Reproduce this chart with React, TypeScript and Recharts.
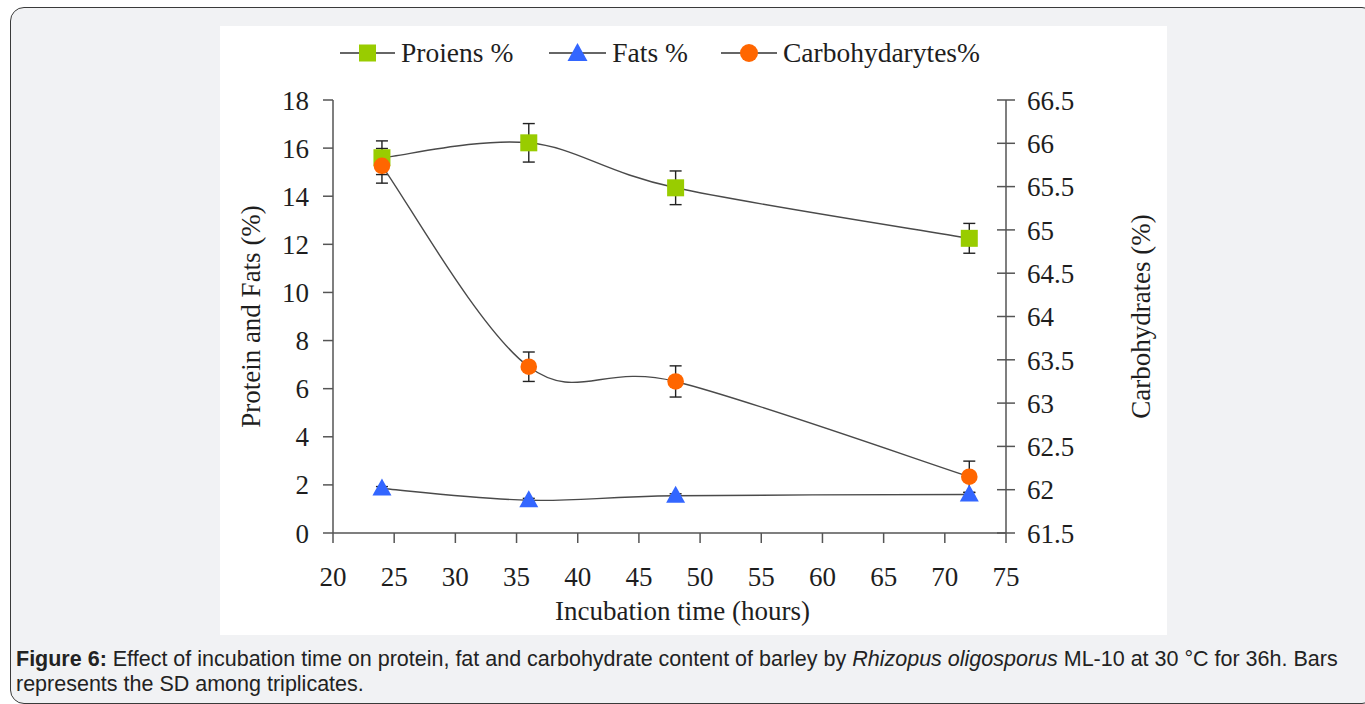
import React from "react";
import { LineChart, Line, XAxis, YAxis, ErrorBar, Legend } from "recharts";

// ---- data ----
const hours = [24, 36, 48, 72];
const proteins = [15.6, 16.22, 14.35, 12.25];
const proteinSD = [0.7, 0.8, 0.7, 0.62];
const fats = [1.85, 1.36, 1.55, 1.6];
const fatsSD = [0.08, 0.08, 0.08, 0.08];
const carbs = [65.74, 63.42, 63.25, 62.15];
const carbsSD = [0.2, 0.17, 0.18, 0.18];

const xTicks = [20, 25, 30, 35, 40, 45, 50, 55, 60, 65, 70, 75];
const leftTicks = [0, 2, 4, 6, 8, 10, 12, 14, 16, 18];
const rightTicks = [61.5, 62, 62.5, 63, 63.5, 64, 64.5, 65, 65.5, 66, 66.5];

const seriesNames = ["Proiens %", "Fats %", "Carbohydarytes%"];

const data = hours.map((h, i) => ({
  hours: h,
  protein: proteins[i],
  proteinErr: proteinSD[i],
  fat: fats[i],
  fatErr: fatsSD[i],
  carb: carbs[i],
  carbErr: carbsSD[i],
}));

const GREEN = "#99cc00";
const BLUE = "#3366ff";
const ORANGE = "#ff6600";
const LINE = "#4a4a4a";
const AXIS = "#555555";
const TEXT = "#1e1e1e";
const SERIF = "'Liberation Serif', 'Times New Roman', serif";

// Catmull-Rom style smoothing (like spreadsheet "smoothed line")
const smoothCurve: any = (context: any) => {
  let pts: number[][] = [];
  return {
    areaStart() {},
    areaEnd() {},
    lineStart() {
      pts = [];
    },
    point(x: number, y: number) {
      pts.push([+x, +y]);
    },
    lineEnd() {
      if (!pts.length) return;
      context.moveTo(pts[0][0], pts[0][1]);
      for (let i = 0; i < pts.length - 1; i++) {
        const p0 = pts[i - 1] || pts[i];
        const p1 = pts[i];
        const p2 = pts[i + 1];
        const p3 = pts[i + 2] || p2;
        context.bezierCurveTo(
          p1[0] + (p2[0] - p0[0]) / 6,
          p1[1] + (p2[1] - p0[1]) / 6,
          p2[0] - (p3[0] - p1[0]) / 6,
          p2[1] - (p3[1] - p1[1]) / 6,
          p2[0],
          p2[1]
        );
      }
    },
  };
};

const squareDot = (p: any) =>
  p.cx == null ? null : (
    <rect key={`sq${p.index}`} x={p.cx - 8.5} y={p.cy - 8.5} width={17} height={17} fill={GREEN} />
  );
const triDot = (p: any) =>
  p.cx == null ? null : (
    <polygon
      key={`tr${p.index}`}
      points={`${p.cx},${p.cy - 10} ${p.cx - 9.5},${p.cy + 7} ${p.cx + 9.5},${p.cy + 7}`}
      fill={BLUE}
    />
  );
const circDot = (p: any) =>
  p.cx == null ? null : <circle key={`ci${p.index}`} cx={p.cx} cy={p.cy} r={8.3} fill={ORANGE} />;

const RightTick = (props: any) => {
  const { x, y, payload } = props;
  const ax = x - 21;
  return (
    <g>
      <line x1={ax - 9} x2={ax + 9} y1={y} y2={y} stroke={AXIS} strokeWidth={1.5} />
      <text x={x} y={y} dy="0.36em" textAnchor="start" fill={TEXT} fontSize={27} fontFamily={SERIF}>
        {payload.value}
      </text>
    </g>
  );
};

const legendMarkers = [
  (cx: number) => <rect x={cx - 8.5} y={1.5} width={17} height={17} fill={GREEN} />,
  (cx: number) => <polygon points={`${cx},0 ${cx - 10},18 ${cx + 10},18`} fill={BLUE} />,
  (cx: number) => <circle cx={cx} cy={10} r={9} fill={ORANGE} />,
];
const legendLineW = [55, 57, 56];
const legendGaps = [0, 36, 33];

const LegendContent = () => (
  <div style={{ height: 40, display: "flex", alignItems: "center", paddingLeft: 120 }}>
    {seriesNames.map((name, i) => (
      <div key={name} style={{ display: "flex", alignItems: "center", marginLeft: legendGaps[i] }}>
        <svg width={legendLineW[i]} height={20} style={{ display: "block" }}>
          <line x1={0} x2={legendLineW[i]} y1={10} y2={10} stroke="#333" strokeWidth={1.5} />
          {legendMarkers[i](legendLineW[i] / 2)}
        </svg>
        <span style={{ marginLeft: 6, fontFamily: SERIF, fontSize: 27.5, color: TEXT, lineHeight: "40px" }}>
          {name}
        </span>
      </div>
    ))}
  </div>
);

const tickStyle = { fill: TEXT, fontSize: 27, fontFamily: SERIF };

export default function App() {
  return (
    <div style={{ position: "absolute", left: 0, top: 0, width: 1365, height: 704, overflow: "hidden", background: "#fff" }}>
      <div
        style={{
          position: "absolute",
          left: 10,
          top: 7,
          width: 1366,
          height: 697,
          boxSizing: "border-box",
          border: "1px solid #3a3a3a",
          borderRadius: 14,
          background: "#f1f2f4",
        }}
      />
      <div style={{ position: "absolute", left: 220, top: 26, width: 947, height: 609, background: "#fff" }}>
        <LineChart width={947} height={609} data={data} margin={{ top: 34, right: 0, bottom: 0, left: 0 }}>
          <Legend
            verticalAlign="top"
            content={<LegendContent />}
            wrapperStyle={{ top: 7, left: 0, width: 947 }}
          />
          <XAxis
            dataKey="hours"
            type="number"
            domain={[20, 75]}
            ticks={xTicks}
            interval={0}
            height={102}
            axisLine={{ stroke: AXIS, strokeWidth: 1.5 }}
            tickLine={{ stroke: AXIS, strokeWidth: 1.5 }}
            tickSize={10}
            tickMargin={24}
            tick={tickStyle}
            label={{
              content: (p: any) => {
                const vb = p.viewBox;
                return (
                  <text x={vb.x + vb.width / 2 + 13} y={594} textAnchor="middle" fill={TEXT} fontSize={27} fontFamily={SERIF}>
                    Incubation time (hours)
                  </text>
                );
              },
            }}
          />
          <YAxis
            yAxisId="left"
            domain={[0, 18]}
            ticks={leftTicks}
            interval={0}
            width={113}
            axisLine={{ stroke: AXIS, strokeWidth: 1.5 }}
            tickLine={{ stroke: AXIS, strokeWidth: 1.5 }}
            tickSize={10}
            tickMargin={14}
            tick={tickStyle}
            label={{
              content: (p: any) => {
                const vb = p.viewBox;
                const cx = 40;
                const cy = vb.y + vb.height / 2;
                return (
                  <text x={cx} y={cy} transform={`rotate(-90 ${cx} ${cy})`} textAnchor="middle" fill={TEXT} fontSize={27} fontFamily={SERIF}>
                    Protein and Fats (%)
                  </text>
                );
              },
            }}
          />
          <YAxis
            yAxisId="right"
            orientation="right"
            domain={[61.5, 66.5]}
            ticks={rightTicks}
            interval={0}
            width={161}
            axisLine={{ stroke: AXIS, strokeWidth: 1.5 }}
            tickLine={false}
            tickSize={9}
            tickMargin={12}
            tick={<RightTick />}
            label={{
              content: (p: any) => {
                const vb = p.viewBox;
                const cx = 930;
                const cy = vb.y + vb.height / 2;
                return (
                  <text x={cx} y={cy} transform={`rotate(-90 ${cx} ${cy})`} textAnchor="middle" fill={TEXT} fontSize={27} fontFamily={SERIF}>
                    Carbohydrates (%)
                  </text>
                );
              },
            }}
          />
          <Line
            yAxisId="left"
            dataKey="protein"
            name={seriesNames[0]}
            type={smoothCurve}
            stroke={LINE}
            strokeWidth={1.4}
            dot={squareDot}
            activeDot={false}
            isAnimationActive={false}
          >
            <ErrorBar dataKey="proteinErr" direction="y" width={6} stroke="#222" strokeWidth={1.4} />
          </Line>
          <Line
            yAxisId="left"
            dataKey="fat"
            name={seriesNames[1]}
            type={smoothCurve}
            stroke={LINE}
            strokeWidth={1.4}
            dot={triDot}
            activeDot={false}
            isAnimationActive={false}
          >
            <ErrorBar dataKey="fatErr" direction="y" width={6} stroke="#222" strokeWidth={1.4} />
          </Line>
          <Line
            yAxisId="right"
            dataKey="carb"
            name={seriesNames[2]}
            type={smoothCurve}
            stroke={LINE}
            strokeWidth={1.4}
            dot={circDot}
            activeDot={false}
            isAnimationActive={false}
          >
            <ErrorBar dataKey="carbErr" direction="y" width={6} stroke="#222" strokeWidth={1.4} />
          </Line>
        </LineChart>
      </div>
      <div
        style={{
          position: "absolute",
          left: 16,
          top: 647,
          width: 1345,
          fontFamily: "'Liberation Sans', Arial, sans-serif",
          fontSize: 21.5,
          lineHeight: "25px",
          color: "#222",
          whiteSpace: "nowrap",
        }}
      >
        <b>Figure 6:</b> Effect of incubation time on protein, fat and carbohydrate content of barley by{" "}
        <i>Rhizopus oligosporus</i> ML-10 at 30 °C for 36h. Bars
        <br />
        represents the SD among triplicates.
      </div>
    </div>
  );
}
